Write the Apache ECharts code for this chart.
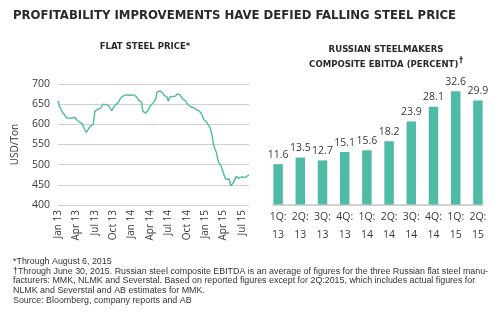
<!DOCTYPE html>
<html>
<head>
<meta charset="utf-8">
<script src="https://cdn.jsdelivr.net/npm/echarts@6/dist/echarts.min.js"></script>
<style>
  html, body { margin: 0; padding: 0; background: #fff; }
  #chart { width: 500px; height: 322px; }
</style>
</head>
<body>
<div id="chart"></div>
<script>
// Weekly flat steel price (USD/ton), first reading Jan 3, 2013, last Aug 6, 2015
const priceStartDate = [2013, 0, 3];
const flatSteelPrice = [
  658, 645, 638, 631, 635, 622, 616, 614, 615, 617, 616, 613, 617, 612, 609, 606,
  603, 602, 594, 586, 580, 584, 591, 596, 599, 600, 632, 636, 637, 637, 640, 644,
  650, 650, 649, 647, 646, 645, 633, 641, 646, 648, 652, 657, 663, 668, 670, 672,
  674, 673, 674, 672, 671, 673, 671, 670, 667, 660, 658, 655, 632, 628, 628, 629,
  636, 645, 649, 652, 655, 662, 680, 683, 683, 682, 678, 672, 671, 668, 657, 668,
  670, 669, 671, 670, 675, 675, 674, 675, 663, 660, 659, 656, 648, 644, 643, 643,
  641, 640, 636, 634, 633, 631, 622, 612, 609, 606, 600, 595, 586, 570, 548, 538,
  530, 512, 503, 498, 490, 478, 468, 463, 460, 465, 448, 452, 455, 458, 471, 468,
  466, 469, 470, 474, 468, 470, 472, 475
];
const monthNames = ['Jan', 'Feb', 'Mar', 'Apr', 'May', 'Jun', 'Jul', 'Aug', 'Sep', 'Oct', 'Nov', 'Dec'];
const labelMonths = [0, 3, 6, 9];

// Russian steelmakers composite EBITDA margin (percent) by quarter
const quarterLabels = ['1Q:\n13', '2Q:\n13', '3Q:\n13', '4Q:\n13', '1Q:\n14', '2Q:\n14', '3Q:\n14', '4Q:\n14', '1Q:\n15', '2Q:\n15'];
const ebitdaPercent = [11.6, 13.5, 12.7, 15.1, 15.6, 18.2, 23.9, 28.1, 32.6, 29.9];

const footnotes = [
  '*Through August 6, 2015',
  '\u2020Through June 30, 2015. Russian steel composite EBITDA is an average of figures for the three Russian flat steel manu-',
  'facturers: MMK, NLMK and Severstal. Based on reported figures except for 2Q:2015, which includes actual figures for',
  'NLMK and Severstal and AB estimates for MMK.',
  'Source: Bloomberg, company reports and AB'
];

// Week dates for the price series
const weekDates = flatSteelPrice.map((_, i) =>
  new Date(Date.UTC(priceStartDate[0], priceStartDate[1], priceStartDate[2] + 7 * i)));
const weekKeys = weekDates.map(d => d.toISOString().slice(0, 10));

function isQuarterStart(i) {
  const d = weekDates[i];
  return d.getUTCDate() <= 7 && labelMonths.indexOf(d.getUTCMonth()) >= 0;
}

const TEAL = '#4fbba6';
const INK = '#3a3a3a';
const FONT = 'Open Sans';
const HEAD_FONT = '"DejaVu Sans Condensed", "DejaVu Sans", sans-serif';

const chart = echarts.init(document.getElementById('chart'), null, { renderer: 'canvas' });

chart.setOption({
  animation: false,
  backgroundColor: '#fff',
  textStyle: { fontFamily: FONT },
  title: [
    {
      text: 'PROFITABILITY IMPROVEMENTS HAVE DEFIED FALLING STEEL PRICE',
      left: 8, top: 4,
      textStyle: { fontFamily: HEAD_FONT, fontWeight: 'bold', fontSize: 13, color: '#2a2a2a' }
    },
    {
      text: 'FLAT STEEL PRICE*',
      left: 140, top: 37, textAlign: 'center',
      textStyle: { fontFamily: HEAD_FONT, fontWeight: 'bold', fontSize: 9.5, color: '#2a2a2a' }
    },
    {
      text: 'RUSSIAN STEELMAKERS\nCOMPOSITE EBITDA (PERCENT){sup|\u2020}',
      left: 381, top: 37, textAlign: 'center',
      textStyle: {
        fontFamily: HEAD_FONT, fontWeight: 'bold', fontSize: 9.5, color: '#2a2a2a',
        lineHeight: 15, align: 'center',
        rich: { sup: { fontFamily: HEAD_FONT, fontWeight: 'bold', fontSize: 8, verticalAlign: 'top', padding: [0, 0, 6, 1] } }
      }
    },
    {
      text: footnotes.join('\n'),
      left: 8, top: 252,
      textStyle: { fontFamily: 'Liberation Sans', fontWeight: 'normal', fontSize: 8.9, lineHeight: 9.6, color: '#333' }
    }
  ],
  grid: [
    { left: 58, width: 191, top: 84, height: 121 },
    { left: 267, width: 222, top: 65.5, height: 139 },
    { left: 273, width: 210, top: 65.5, height: 139 }
  ],
  xAxis: [
    {
      type: 'category', gridIndex: 0, data: weekKeys, boundaryGap: false,
      axisLine: { show: false }, axisTick: { show: false },
      axisLabel: {
        interval: (i) => isQuarterStart(i),
        rotate: 90, margin: 5, fontSize: 10, color: INK, fontFamily: FONT,
        formatter: (v) => {
          const d = new Date(v + 'T00:00:00Z');
          return monthNames[d.getUTCMonth()] + ' ' + String(d.getUTCFullYear()).slice(2);
        }
      }
    },
    {
      type: 'category', gridIndex: 1, data: quarterLabels,
      axisLine: { show: false }, axisTick: { show: false },
      axisLabel: { fontSize: 10.5, lineHeight: 18, margin: 4, color: INK, fontFamily: FONT, interval: 0 }
    },
    {
      type: 'value', gridIndex: 2, min: 0, max: 1,
      axisLine: { show: true, lineStyle: { color: '#c4c4c4', width: 1.5 } },
      axisTick: { show: false }, axisLabel: { show: false }, splitLine: { show: false }
    }
  ],
  yAxis: [
    {
      type: 'value', gridIndex: 0, min: 400, max: 700, interval: 50,
      name: 'USD/Ton', nameLocation: 'middle', nameGap: 38, nameRotate: 90,
      nameTextStyle: { fontSize: 10, color: INK, fontFamily: FONT },
      axisLine: { show: false }, axisTick: { show: false },
      axisLabel: { fontSize: 10.5, color: INK, margin: 8, fontFamily: FONT },
      splitLine: { lineStyle: { color: '#d0d0d0', width: 1 } }
    },
    {
      type: 'value', gridIndex: 1, min: 0, max: 40, show: false
    },
    {
      type: 'value', gridIndex: 2, min: 0, max: 1, show: false
    }
  ],
  series: [
    {
      type: 'line', xAxisIndex: 0, yAxisIndex: 0, data: flatSteelPrice,
      showSymbol: false, lineStyle: { color: TEAL, width: 1.4 }
    },
    {
      type: 'bar', xAxisIndex: 1, yAxisIndex: 1, data: ebitdaPercent, barWidth: 9.5,
      itemStyle: { color: TEAL },
      label: { show: true, position: 'top', distance: 4, fontSize: 10.5, color: INK, fontFamily: FONT }
    }
  ]
});
</script>
</body>
</html>
